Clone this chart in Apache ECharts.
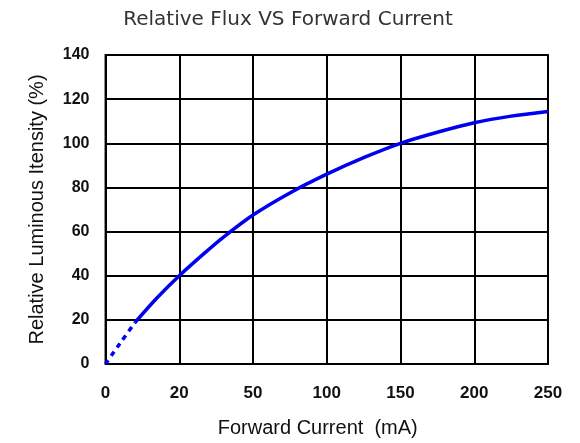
<!DOCTYPE html>
<html><head><meta charset="utf-8">
<script src="https://cdn.jsdelivr.net/npm/echarts@6/dist/echarts.min.js"></script>
<style>html,body{margin:0;padding:0;background:#fff;overflow:hidden}#c{width:580px;height:443px}</style>
</head><body><div id="c"></div>
<script>
// X tick labels (evenly spaced, non-linear current values in mA)
const xTickLabels = ['0', '20', '50', '100', '150', '200', '250'];
// Curve: [tick position index, relative luminous intensity %]
const dashedPart = [[0, 0], [0.2, 9.5], [0.4, 18.8]];
const solidPart = [[0.4, 18.8], [0.7, 30], [1, 40], [1.3, 49], [1.6, 57.5], [2, 67.5], [2.5, 77.5], [3, 86], [3.5, 93.5], [4, 100], [4.5, 105], [5, 109.3], [5.5, 112.3], [6, 114.4]];
const yTicks = { min: 0, max: 140, step: 20 };

const chart = echarts.init(document.getElementById('c'), null, { renderer: 'canvas', width: 580, height: 443 });
const labelFont = 'Liberation Sans, Arial, sans-serif';
chart.setOption({
  animation: false,
  title: {
    text: 'Relative Flux VS Forward Current',
    left: 283, top: 5, textAlign: 'center',
    textStyle: { fontFamily: 'DejaVu Sans', fontWeight: 'normal', fontSize: 20, color: '#333' }
  },
  grid: { left: 105.5, right: 32, top: 55, bottom: 73, show: true, borderColor: '#222', borderWidth: 2 },
  xAxis: {
    type: 'value', min: 0, max: xTickLabels.length - 1, interval: 1,
    name: 'Forward Current  (mA)', nameLocation: 'middle', nameGap: 54,
    nameTextStyle: { fontFamily: labelFont, fontSize: 20, color: '#111', padding: [0, 18, 0, 0] },
    axisLine: { show: false }, axisTick: { show: false },
    axisLabel: { formatter: v => xTickLabels[Math.round(v)], fontFamily: labelFont, fontWeight: 'bold', fontSize: 17, color: '#111', margin: 21 },
    splitLine: { show: true, lineStyle: { color: '#000', width: 2 } }
  },
  yAxis: {
    type: 'value', min: yTicks.min, max: yTicks.max, interval: yTicks.step,
    name: 'Relative Luminous Itensity (%)', nameLocation: 'middle', nameRotate: 90, nameGap: 58,
    nameTextStyle: { fontFamily: labelFont, fontSize: 20, color: '#111' },
    axisLine: { show: false }, axisTick: { show: false },
    axisLabel: { fontFamily: labelFont, fontWeight: 'bold', fontSize: 16, color: '#111', margin: 16 },
    splitLine: { show: true, lineStyle: { color: '#000', width: 2 } }
  },
  series: [
    { type: 'line', data: dashedPart, smooth: 0.3, showSymbol: false,
      lineStyle: { color: '#0000ee', width: 3.5, type: [5, 5] } },
    { type: 'line', data: solidPart, smooth: 0.3, showSymbol: false,
      lineStyle: { color: '#0000ee', width: 3.5 } }
  ]
});
</script></body></html>
